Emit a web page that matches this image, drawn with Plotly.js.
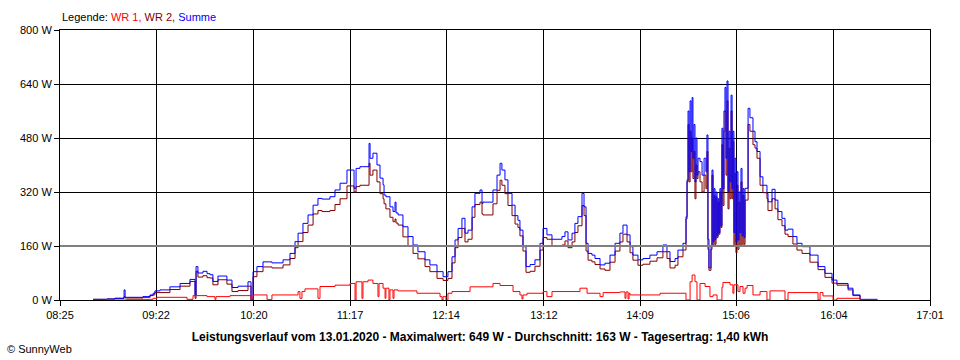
<!DOCTYPE html>
<html>
<head>
<meta charset="utf-8">
<script src="https://cdn.plot.ly/plotly-3.0.1.min.js"></script>
<style>
html,body{margin:0;padding:0;background:#fff;}
#chart{width:960px;height:360px;}
</style>
</head>
<body>
<div id="chart"></div>
<script>
// Time axis labels (HH:MM)
const xTickLabels = ["08:25","09:22","10:20","11:17","12:14","13:12","14:09","15:06","16:04","17:01"];
const yTickValues = [0,160,320,480,640,800];
const yTickLabels = ["0 W","160 W","320 W","480 W","640 W","800 W"];

// Summe & WR 2 share the same timestamps (minutes since midnight)
const sumTime = [524.6,532.9,537.6,543.0,543.6,554.2,558.4,560.2,561.3,564.3,570.2,576.2,582.1,585.1,585.7,586.8,589.8,592.2,594.0,595.7,598.7,604.0,607.0,610.6,616.5,618.3,619.5,621.8,625.4,630.7,637.3,641.4,644.4,646.2,649.1,652.1,655.1,658.0,660.4,665.1,668.1,671.1,675.2,679.4,680.6,682.9,688.3,688.9,690.6,693.0,694.8,696.6,697.2,698.3,700.7,702.5,703.7,704.3,705.5,708.4,711.4,714.4,717.3,721.5,724.4,728.6,732.2,735.1,737.5,739.3,741.1,743.4,745.2,747.0,749.4,751.1,754.1,755.3,755.9,761.8,764.2,766.0,767.1,768.9,770.7,773.1,774.9,776.6,777.8,779.6,781.4,783.8,786.7,789.7,791.5,793.8,796.8,802.7,804.5,806.3,808.7,810.4,812.2,814.6,815.8,817.0,818.2,820.5,822.3,825.3,828.2,831.2,834.2,837.1,838.9,841.3,843.1,844.8,847.8,850.8,854.9,859.1,862.6,865.0,866.8,869.8,871.5,874.5,876.3,876.9,877.5,878.1,878.7,879.3,879.9,880.4,881.0,881.6,882.2,882.8,883.4,884.6,885.8,887.0,888.1,888.7,889.3,889.9,891.1,891.7,892.3,892.9,893.5,894.1,894.7,895.3,895.8,896.4,897.0,897.6,898.2,898.8,899.4,900.0,900.6,901.2,901.8,902.4,903.0,903.6,904.1,904.7,905.3,905.9,906.5,907.1,907.7,908.3,908.9,909.5,910.1,910.7,911.3,913.1,914.2,916.0,917.2,918.4,920.2,921.9,924.3,924.9,927.3,929.1,930.8,933.2,935.0,936.8,939.7,942.1,945.1,949.8,954.6,958.7,962.9,965.8,972.4,975.3,979.5,989.6];
const sumWatt = [2,3,5,30,8,10,15,20,27,30,39,49,61,15,99,80,85,78,75,55,71,59,37,41,54,0,84,99,113,110,119,138,173,198,227,252,281,301,299,306,326,346,385,331,390,395,464,420,435,400,361,341,311,306,276,262,290,258,252,217,188,163,143,119,104,84,69,84,128,178,212,242,198,207,276,316,326,286,290,326,370,405,385,356,316,281,250,236,207,158,99,105,119,168,212,193,180,188,202,178,198,227,247,316,276,168,138,133,123,104,109,133,168,198,222,193,158,133,119,123,133,143,163,143,114,123,148,168,247,356,560,380,590,440,600,420,520,350,480,370,420,410,370,420,380,489,180,95,160,385,173,330,180,320,190,300,200,330,220,509,330,560,630,420,649,321,500,350,607,330,500,200,420,172,380,178,320,200,390,190,330,185,331,568,540,500,469,440,365,340,316,291,328,296,262,242,207,210,188,168,158,133,99,79,59,49,35,15,2,0];
const wr2Watt = [2,3,5,10,6,8,13,15,22,22,31,41,55,5,85,68,72,66,65,45,60,47,25,28,41,0,69,84,98,95,104,123,155,173,200,222,255,265,262,265,283,300,338,320,336,340,405,370,385,350,315,300,285,270,245,232,240,228,222,187,160,138,122,99,84,64,58,64,110,155,185,212,172,180,245,283,290,255,252,285,325,355,340,315,280,250,225,215,190,145,82,85,100,148,185,180,160,163,175,155,172,200,220,280,250,145,118,113,105,92,88,112,145,172,195,172,140,118,103,106,115,125,143,123,95,103,128,148,240,350,520,350,500,380,480,360,440,300,400,360,380,350,320,370,330,440,150,88,150,370,160,310,165,305,185,290,195,320,215,460,280,500,560,370,590,270,450,300,560,300,470,160,375,140,340,150,290,160,350,160,310,165,296,520,500,460,450,420,340,318,300,265,300,270,238,220,195,188,166,148,138,112,90,67,50,44,30,13,1,0];

// WR 1
const wr1Time = [524.6,544.7,560.2,562.5,580.3,583.9,592.2,596.9,597.5,605.8,618.3,619.5,627.8,630.7,646.2,647.3,648.5,650.3,658.0,659.2,668.1,677.0,680.0,680.6,684.1,684.7,687.7,690.6,693.6,694.2,696.6,697.8,698.3,700.1,700.7,702.5,703.1,705.5,716.7,730.4,731.6,732.2,733.9,735.1,737.5,748.2,761.8,766.0,773.7,777.8,779.0,779.6,782.0,791.5,793.8,796.8,813.4,817.6,825.3,827.1,837.1,840.1,840.7,841.9,842.5,843.1,860.9,876.3,878.7,879.9,881.6,882.8,884.6,887.6,890.5,892.3,894.7,897.6,898.2,902.4,904.1,904.7,907.1,908.3,910.1,911.3,912.5,916.0,920.2,924.3,926.1,935.0,936.8,954.6,955.8,957.5,963.5,965.8,979.5,989.6];
const wr1Watt = [0,2,5,8,2,13,10,2,10,13,0,15,1,15,25,5,25,33,5,40,44,49,0,54,5,54,59,49,10,49,35,5,35,0,30,5,30,27,20,10,0,10,0,20,25,39,49,43,25,15,3,15,20,25,10,25,35,20,10,22,24,5,24,3,20,15,20,0,54,74,54,0,49,40,10,15,0,38,52,45,20,45,25,40,20,35,43,15,25,0,27,0,22,0,22,12,0,5,1,0];

const toMin = s => { const p = s.split(':'); return (+p[0]) * 60 + (+p[1]); };
const xTickVals = xTickLabels.map(toMin);

const font = 'Liberation Sans, Arial, sans-serif';

const traces = [
  {x: sumTime, y: wr2Watt, name: 'WR 2', type: 'scatter', mode: 'lines',
   line: {color: '#800000', width: 1, shape: 'hv'}},
  {x: sumTime, y: sumWatt, name: 'Summe', type: 'scatter', mode: 'lines',
   line: {color: '#0000ff', width: 1, shape: 'hv'}},
  {x: wr1Time, y: wr1Watt, name: 'WR 1', type: 'scatter', mode: 'lines',
   line: {color: '#ff0000', width: 1, shape: 'hv'}}
];

const axisCommon = {
  showgrid: true, gridcolor: '#000', gridwidth: 1,
  ticks: 'outside', ticklen: 5, tickcolor: '#000', tickwidth: 1,
  showline: true, mirror: true, linecolor: '#000', linewidth: 1,
  zeroline: false,
  tickfont: {family: font, size: 11, color: '#000'}
};

const layout = {
  width: 960, height: 360,
  margin: {l: 60, r: 30, t: 30, b: 60},
  paper_bgcolor: '#ffffff', plot_bgcolor: '#ffffff',
  showlegend: false,
  font: {family: font, size: 11, color: '#000'},
  title: {
    text: '<b>Leistungsverlauf vom 13.01.2020 - Maximalwert: 649 W - Durchschnitt: 163 W - Tagesertrag: 1,40 kWh</b>',
    font: {family: font, size: 12, color: '#000'},
    xref: 'container', yref: 'container', x: 0.5, xanchor: 'center', y: 1 - 337/360, yanchor: 'middle'
  },
  xaxis: Object.assign({}, axisCommon, {
    range: [xTickVals[0], xTickVals[xTickVals.length - 1]],
    tickvals: xTickVals, ticktext: xTickLabels
  }),
  yaxis: Object.assign({}, axisCommon, {
    range: [0, 800],
    tickvals: yTickValues, ticktext: yTickLabels
  }),
  shapes: [
    {type: 'line', xref: 'paper', x0: 0, x1: 1, yref: 'y', y0: yTickValues[1], y1: yTickValues[1],
     line: {color: '#808080', width: 2}, layer: 'above'}
  ],
  annotations: [
    {xref: 'paper', yref: 'paper', x: 0, y: (300 - 17) / 270, xanchor: 'left', yanchor: 'middle', showarrow: false,
     text: 'Legende: <span style="color:#ff0000">WR 1,</span> <span style="color:#800000">WR 2,</span> <span style="color:#0000ff">Summe</span>',
     font: {family: font, size: 11, color: '#000'}},
    {xref: 'paper', yref: 'paper', x: (5 - 60) / 870, y: (300 - 349) / 270, xanchor: 'left', yanchor: 'middle', showarrow: false,
     text: '© SunnyWeb', font: {family: font, size: 11, color: '#000'}}
  ]
};

Plotly.newPlot('chart', traces, layout, {displayModeBar: false, staticPlot: true});
</script>
</body>
</html>
